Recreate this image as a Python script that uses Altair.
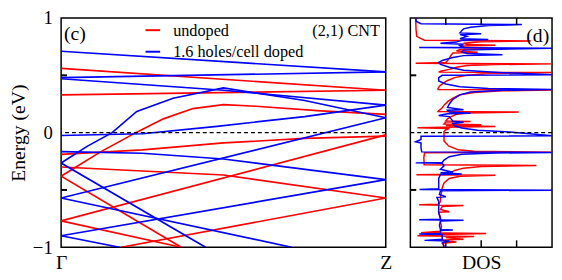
import altair as alt
import pandas as pd

FONT = "Liberation Serif"

# ---------------- band structure (fraction along Γ→Z, energy in eV) ----------------
undoped_bands = [
    [(0.0, 0.56), (1.0, 0.37)],
    [(0.0, 0.33), (1.0, 0.37)],
    [(0.0, -0.38), (0.12, -0.17), (0.23, 0.0), (0.315, 0.12), (0.406, 0.21), (0.5, 0.245),
     (0.6, 0.23), (0.8, 0.19), (1.0, 0.16)],
    [(0.0, -0.19), (0.25, -0.15), (0.5, -0.09), (0.75, -0.05), (1.0, -0.03)],
    [(0.0, -0.30), (0.5, -0.37), (1.0, -0.57)],
    [(0.0, -0.77), (1.0, -0.02)],
    [(0.0, -0.77), (0.37, -1.0)],
    [(0.0, -0.38), (0.37, -1.0)],
    [(0.185, -1.0), (1.0, -0.57)],
]
doped_bands = [
    [(0.0, 0.71), (1.0, 0.53)],
    [(0.0, 0.48), (1.0, 0.53)],
    [(0.0, 0.47), (0.5, 0.37), (1.0, 0.24)],
    [(0.0, -0.265), (0.08, -0.12), (0.157, 0.0), (0.233, 0.185), (0.345, 0.30), (0.5, 0.39),
     (0.75, 0.28), (1.0, 0.13)],
    [(0.0, -0.025), (0.25, -0.01), (0.48, 0.055), (0.75, 0.14), (1.0, 0.24)],
    [(0.0, -0.57), (1.0, 0.13)],
    [(0.0, -0.165), (0.25, -0.18), (0.5, -0.23), (1.0, -0.41)],
    [(0.0, -0.90), (1.0, -0.41)],
    [(0.0, -0.265), (0.445, -1.0)],
    [(0.0, -0.57), (0.71, -1.0)],
    [(0.0, -0.90), (0.18, -1.0)],
]

# ---------------- density of states (energy, DOS) ----------------
undoped_dos_E = [1.00, 0.90, 0.84, 0.82, 0.806, 0.800, 0.792, 0.780, 0.768, 0.762, 0.755, 0.742,
                 0.733, 0.726, 0.712, 0.702, 0.694, 0.675, 0.650, 0.630, 0.612, 0.606, 0.600, 0.594,
                 0.585, 0.570, 0.552, 0.536, 0.528, 0.524, 0.516, 0.500, 0.480, 0.455, 0.430, 0.405,
                 0.385, 0.377, 0.372, 0.365, 0.350, 0.330, 0.300, 0.270, 0.240, 0.210, 0.192, 0.184,
                 0.180, 0.172, 0.160, 0.140, 0.120, 0.102, 0.098, 0.092, 0.075, 0.068, 0.062, 0.053,
                 0.047, 0.042, 0.036, 0.025, 0.010, -0.020, -0.050, -0.073, -0.116, -0.150, -0.163,
                 -0.170, -0.175, -0.220, -0.280, -0.287, -0.295, -0.310, -0.330, -0.350, -0.363,
                 -0.367, -0.372, -0.380, -0.400, -0.440, -0.480, -0.520, -0.560, -0.600, -0.625,
                 -0.630, -0.636, -0.645, -0.670, -0.690, -0.695, -0.740, -0.780, -0.820, -0.860,
                 -0.874, -0.880, -0.888, -0.900, -0.906, -0.915, -0.930, -0.938, -0.955, -0.965,
                 -0.985, -1.00]
undoped_dos = [0.15, 0.16, 0.18, 0.30, 0.40, 3.40, 2.00, 1.50, 1.60, 2.40, 1.40, 1.50,
               2.60, 1.40, 1.30, 1.90, 1.20, 1.15, 1.10, 1.05, 1.00, 0.15, 4.00, 2.40,
               1.60, 1.30, 1.10, 0.85, 0.80, 4.00, 2.20, 1.60, 1.25, 1.05, 0.92, 0.82,
               0.78, 0.78, 4.00, 2.60, 1.80, 1.40, 1.20, 1.05, 0.95, 0.88, 0.80, 0.78,
               3.06, 1.60, 1.30, 1.15, 1.05, 1.00, 1.70, 1.00, 0.95, 2.00, 1.00, 2.40,
               0.95, 0.20, 1.10, 1.00, 0.95, 0.95, 0.95, 0.95, 1.08, 1.35, 1.80,
               4.00, 0.40, 0.38, 0.39, 3.56, 2.00, 1.50, 1.25, 1.15, 1.15,
               0.17, 2.40, 1.40, 1.10, 0.95, 0.90, 0.88, 0.85, 0.85, 0.80,
               0.25, 1.50, 0.90, 0.85, 1.10, 0.80, 0.85, 0.85, 0.88, 0.85,
               0.30, 2.14, 0.90, 0.20, 1.80, 1.00, 1.50, 0.80, 1.30, 0.90,
               0.95, 0.95]

doped_dos_E = [1.00, 0.97, 0.950, 0.943, 0.934, 0.920, 0.905, 0.890, 0.870, 0.862, 0.855, 0.840,
               0.820, 0.812, 0.805, 0.790, 0.780, 0.772, 0.760, 0.750, 0.746, 0.742, 0.737, 0.720,
               0.705, 0.690, 0.680, 0.672, 0.655, 0.630, 0.612, 0.595, 0.570, 0.545, 0.525, 0.505,
               0.500, 0.480, 0.450, 0.425, 0.400, 0.385, 0.376, 0.370, 0.355, 0.330, 0.290, 0.250,
               0.220, 0.200, 0.195, 0.180, 0.170, 0.165, 0.150, 0.140, 0.120, 0.100, 0.090, 0.080,
               0.060, 0.040, 0.020, 0.005, -0.028, -0.032, -0.060, -0.080, -0.090, -0.130, -0.168,
               -0.173, -0.178, -0.188, -0.210, -0.240, -0.260, -0.264, -0.268, -0.290, -0.320,
               -0.345, -0.350, -0.360, -0.365, -0.400, -0.440, -0.490, -0.497, -0.502, -0.507,
               -0.540, -0.560, -0.565, -0.600, -0.650, -0.700, -0.755, -0.760, -0.765, -0.772,
               -0.810, -0.845, -0.850, -0.855, -0.880, -0.885, -0.890, -0.930, -0.940, -0.945,
               -0.960, -1.00]
doped_dos = [0.15, 0.17, 0.30, 3.15, 2.20, 1.70, 1.50, 1.45, 1.40, 2.00, 1.40, 1.60,
             1.40, 2.20, 1.45, 1.30, 0.85, 1.50, 1.40, 1.50, 1.40, 0.25, 4.00, 1.50,
             1.45, 1.60, 2.60, 1.50, 1.20, 0.90, 0.80, 0.85, 1.10, 1.50, 2.50, 4.00,
             0.90, 0.80, 0.80, 1.00, 1.40, 2.20, 4.00, 2.60, 1.70, 1.40, 1.20, 1.10,
             1.05, 1.50, 1.05, 1.10, 1.70, 1.05, 0.80, 1.10, 1.15, 1.20, 1.50, 1.20,
             1.25, 1.45, 1.90, 2.80, 4.00, 0.30, 0.30, 0.15, 0.30, 0.30, 0.32,
             4.00, 2.40, 1.45, 1.10, 0.95, 0.90, 0.15, 0.90, 0.95, 0.85,
             1.20, 0.85, 1.45, 0.85, 0.80, 0.80, 0.80, 0.26, 4.00, 0.85,
             0.82, 1.00, 0.75, 0.80, 0.80, 0.80, 0.85, 0.25, 1.50, 0.85,
             0.82, 0.85, 1.20, 0.85, 0.85, 0.25, 0.90, 0.90, 0.40, 1.10,
             0.92, 0.95]

energy_ticks = [-1, 0, 1]
energy_minor_ticks = [0.5, -0.5]
dos_ticks = [1, 2, 3]
k_labels = ["Γ", "Z"]


def band_frame(bands, name):
    rows = []
    for i, band in enumerate(bands):
        for j, (k, e) in enumerate(band):
            rows.append({"k": k, "E": e, "band": f"{name}{i}", "o": j})
    return pd.DataFrame(rows)


red_df = band_frame(undoped_bands, "u")
blue_df = band_frame(doped_bands, "d")
red_dos_df = pd.DataFrame({"E": undoped_dos_E, "D": undoped_dos, "o": range(len(undoped_dos))})
blue_dos_df = pd.DataFrame({"E": doped_dos_E, "D": doped_dos, "o": range(len(doped_dos))})
zero_df = pd.DataFrame({"E": [0.0]})
minor_df = pd.DataFrame({"E": energy_minor_ticks})
dos_tick_df = pd.DataFrame({"D": dos_ticks})
one_row = pd.DataFrame({"a": [0]})

RED = "#ff0000"
BLUE = "#0000ff"

xk = alt.X("k:Q", scale=alt.Scale(domain=[0, 1], nice=False, zero=False),
           axis=alt.Axis(values=[0, 1],
                         labelExpr=f"datum.value == 0 ? '{k_labels[0]}' : '{k_labels[1]}'",
                         ticks=False, domain=False, grid=False, labelFont=FONT, labelFontSize=20,
                         labelColor="black", labelPadding=6, labelFlush=False),
           title=None)
yE = alt.Y("E:Q", scale=alt.Scale(domain=[-1, 1], nice=False, zero=False),
           axis=alt.Axis(values=energy_ticks,
                         labelExpr="datum.value > 0.5 ? '1' : (datum.value < -0.5 ? '\u22121' : '0')",
                         labelOverlap=False, labelFlush=False,
                         ticks=False, domain=False, grid=False,
                         labelFont=FONT, labelFontSize=19, labelColor="black", labelPadding=9,
                         title="Energy (eV)", titleFont=FONT, titleFontSize=20,
                         titleFontWeight="normal", titleColor="black", titlePadding=4))

red_lines = alt.Chart(red_df).mark_line(color=RED, strokeWidth=1.7, clip=True).encode(
    x=xk, y=yE, detail="band:N", order="o:Q")
blue_lines = alt.Chart(blue_df).mark_line(color=BLUE, strokeWidth=1.7, clip=True).encode(
    x=xk, y=yE, detail="band:N", order="o:Q")
zero_line = alt.Chart(zero_df).mark_rule(color="black", strokeWidth=1.5, strokeDash=[4, 3]).encode(y=yE)
minor_ticks = alt.Chart(minor_df).mark_rule(color="black", strokeWidth=2).encode(
    y=yE, x=alt.value(0), x2=alt.value(6))

legend_red = alt.Chart(one_row).mark_rule(color=RED, strokeWidth=2).encode(
    x=alt.datum(0.26), x2=alt.datum(0.305), y=alt.datum(0.894))
legend_blue = alt.Chart(one_row).mark_rule(color=BLUE, strokeWidth=2).encode(
    x=alt.datum(0.26), x2=alt.datum(0.305), y=alt.datum(0.706))


def label(txt, x, y, align="left", size=16.5):
    return alt.Chart(one_row).mark_text(align=align, baseline="middle", font=FONT,
                                        fontSize=size, color="black").encode(
        x=alt.datum(x), y=alt.datum(y), text=alt.value(txt))


left = alt.layer(
    red_lines, blue_lines, zero_line, minor_ticks, legend_red, legend_blue,
    label("undoped", 0.345, 0.885),
    label("1.6 holes/cell doped", 0.345, 0.705),
    label("(2,1) CNT", 0.982, 0.885, align="right"),
    label("(c)", 0.009, 0.86, size=20),
).properties(width=330, height=233)

xD = alt.X("D:Q", scale=alt.Scale(domain=[0, 4], nice=False, zero=False),
           axis=alt.Axis(labels=False, ticks=False, domain=False, grid=False, title="DOS",
                         titleFont=FONT, titleFontSize=20, titleFontWeight="normal",
                         titleColor="black", titlePadding=6))
yD = alt.Y("E:Q", scale=alt.Scale(domain=[-1, 1], nice=False, zero=False), axis=None)

red_dos = alt.Chart(red_dos_df).mark_line(color=RED, strokeWidth=1.5, clip=True).encode(
    x=xD, y=yD, order="o:Q")
blue_dos = alt.Chart(blue_dos_df).mark_line(color=BLUE, strokeWidth=1.5, clip=True).encode(
    x=xD, y=yD, order="o:Q")
zero_line_d = alt.Chart(zero_df).mark_rule(color="black", strokeWidth=1.5, strokeDash=[4, 3]).encode(y=yD)
minor_ticks_d = alt.Chart(minor_df).mark_rule(color="black", strokeWidth=2).encode(
    y=yD, x=alt.value(0), x2=alt.value(6))
top_ticks = alt.Chart(dos_tick_df).mark_rule(color="black", strokeWidth=1.5).encode(
    x=xD, y=alt.value(0), y2=alt.value(7))
bottom_ticks = alt.Chart(dos_tick_df).mark_rule(color="black", strokeWidth=1.5).encode(
    x=xD, y=alt.value(233), y2=alt.value(226))
d_label = alt.Chart(one_row).mark_text(align="right", baseline="middle", font=FONT,
                                       fontSize=20, color="black").encode(
    x=alt.datum(3.92), y=alt.datum(0.84), text=alt.value("(d)"))

right = alt.layer(
    red_dos, blue_dos, zero_line_d, minor_ticks_d, top_ticks, bottom_ticks, d_label
).properties(width=144, height=233)

chart = alt.hconcat(left, right, spacing=16).properties(
    padding={"left": 0, "top": -2, "right": 0, "bottom": -3},
    background="white",
).configure_view(stroke="black", strokeWidth=1.5)

chart.save("out.html", embed_options={"renderer": "svg", "actions": False})
